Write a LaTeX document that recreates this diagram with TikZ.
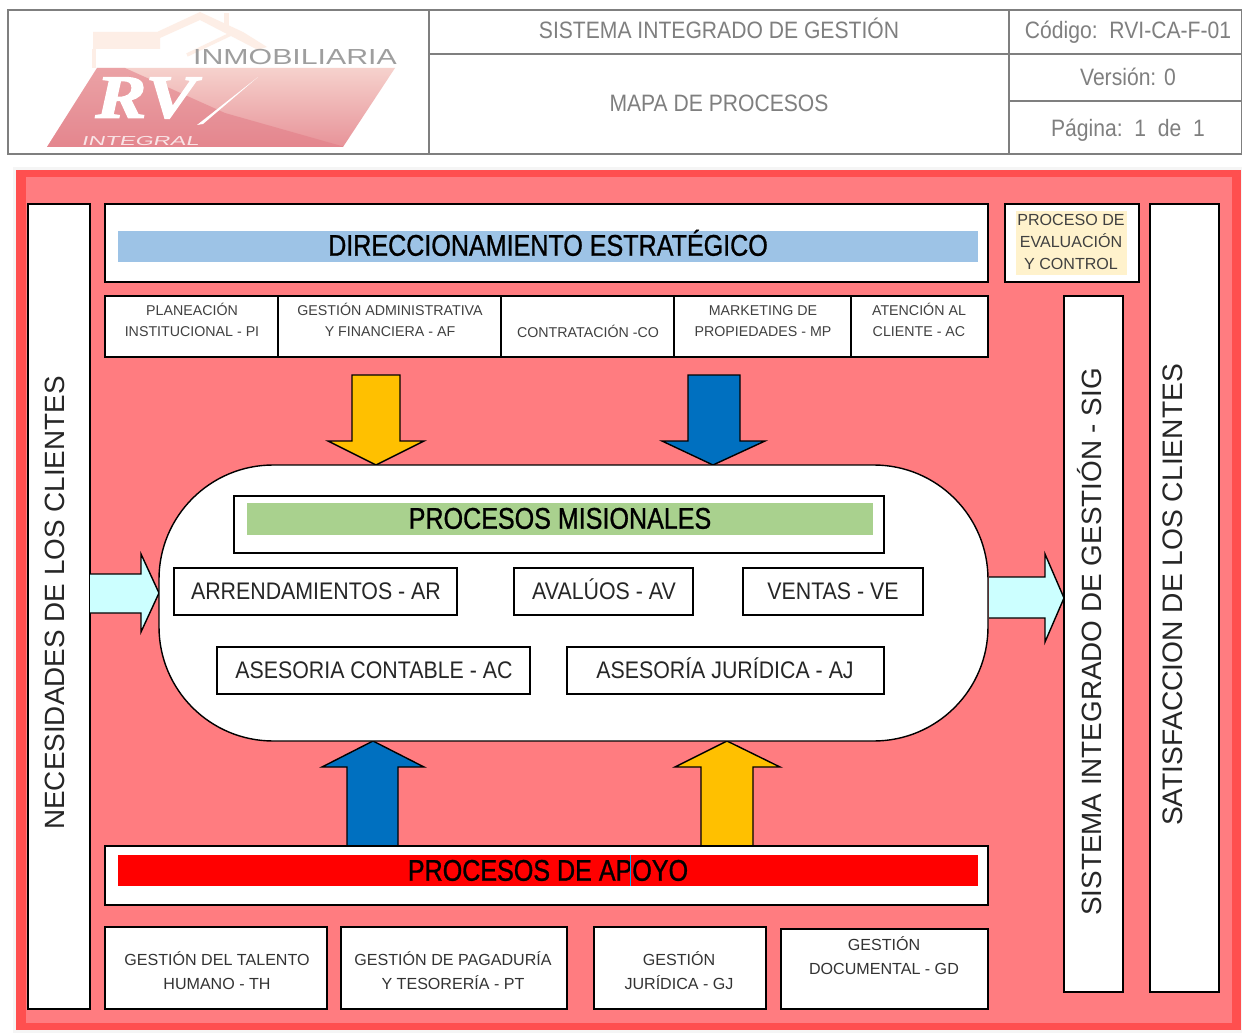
\documentclass[tikz,border=0pt]{standalone}
\usepackage{fontspec}
\setmainfont{Liberation Sans}
\newfontfamily\narrowfont[FakeStretch=0.89]{Liberation Sans}
\newfontfamily\barfont[FakeStretch=0.84,FakeBold=0.9]{Liberation Sans}
\newfontfamily\widefont[FakeStretch=1.39]{Liberation Sans}
\newfontfamily\logofont[FakeStretch=1.8,FakeSlant=0.25]{Liberation Sans}
\newfontfamily\brandfont[FakeStretch=1.25,FakeBold=2]{Liberation Serif}
\definecolor{headgrey}{HTML}{7F7F7F}
\definecolor{mapred}{HTML}{FF7C80}
\definecolor{mapedge}{HTML}{FF4F4F}
\definecolor{barblue}{HTML}{9DC3E6}
\definecolor{bargreen}{HTML}{A9D18E}
\definecolor{cream}{HTML}{FFF2CC}
\definecolor{arrowblue}{HTML}{0070C0}
\definecolor{arroworange}{HTML}{FFC000}
\definecolor{arrowcyan}{HTML}{CCFFFF}
\definecolor{logored}{HTML}{E27C86}
\definecolor{logomid}{HTML}{F2B5A5}
\definecolor{logopale}{HTML}{FBE8DF}
\definecolor{housepale}{HTML}{FDEEE6}
\usetikzlibrary{shadings}
\tikzset{
  headline/.style={draw=headgrey, line width=1.1pt},
  headtext/.style={text=headgrey, font=\narrowfont\fontsize{13.5}{15}\selectfont, text height=10pt, text depth=0pt},
  boxline/.style={draw=black, line width=0.8pt, fill=white},
  tinytext/.style={text=black!75, font=\fontsize{8.1}{12}\selectfont, align=center},
  midtext/.style={text=black!80, font=\fontsize{9.15}{13.6}\selectfont, align=center},
  wordtext/.style={text=black!85, font=\narrowfont\fontsize{13.65}{16}\selectfont, text height=10pt, text depth=0pt},
  bartext/.style={text=black, font=\barfont\fontsize{17}{19}\selectfont, text height=12.2pt, text depth=0pt},
  sidetext/.style={text=black!85, font=\fontsize{15.85}{18}\selectfont, rotate=90, text height=11.3pt, text depth=0pt},
  blockarrow/.style={draw=black, line width=0.8pt, line join=miter},
}
\begin{document}
\begin{tikzpicture}[x=0.02cm, y=-0.02cm]
  \useasboundingbox (0,0) rectangle (1242,1034);
  \fill[white] (0,0) rectangle (1242,1034);
  % logo
  \fill[housepale] (93,32) -- (157,32) -- (200,12) -- (243,32) -- (267,47) -- (258,50) -- (200,20) -- (160,38) -- (160,49) -- (93,49) -- cycle;
  \fill[housepale] (92,49) rectangle (96,68);
  \fill[housepale] (224,13) rectangle (229,30);
  \draw[housepale, line width=2pt] (187,55) -- (233,33);
  \begin{scope}
    \clip (97,68) -- (395,68) -- (343,147) -- (47,147) -- cycle;
    \shade[shading angle=-60, top color=logopale, middle color=logomid, bottom color=logored] (40,40) rectangle (400,175);
    \fill[logored, opacity=0.55] (47,147) -- (47,68) -- (125,68) -- (225,113) -- (345,147) -- cycle;
  \end{scope}
  \node[text=black!38, font=\widefont\fontsize{12.4}{14}\selectfont] (inmob) at (295,57) {INMOBILIARIA};
  \node[text=white, inner sep=0pt, font=\brandfont\bfseries\itshape\fontsize{35}{35}\selectfont] (rv) at (146,98) {RV};
  \fill[white] (258,77) -- (197,125) -- (203,124) -- cycle;
  \node[text=white!80!logored, inner sep=0pt, font=\logofont\fontsize{7.4}{8}\selectfont] (integral) at (140,141) {INTEGRAL};
  % header
  \draw[headline] (8,10) rectangle (1242,154);
  \draw[headline] (429,10) -- (429,154);
  \draw[headline] (1009,10) -- (1009,154);
  \draw[headline] (429,54) -- (1242,54);
  \draw[headline] (1009,101) -- (1242,101);
  \node[headtext] (sistema) at (719,30) {SISTEMA INTEGRADO DE GESTIÓN};
  \node[headtext] (mapa) at (719,103) {MAPA DE PROCESOS};
  \node[headtext] (codigo) at (1128,30) {Código:\ \ RVI-CA-F-01};
  \node[headtext] (version) at (1128,77) {Versión: 0};
  \node[headtext] (pagina) at (1128,128) {Página:\ \ 1\ \ de\ \ 1};
  % background
  \fill[black!4] (13,167) rectangle (1242,1033);
  \fill[mapedge] (16,170) rectangle (1241,1030);
  \fill[mapred] (26,177) rectangle (1232,1023);
  % top boxes
  \filldraw[boxline] (28,204) rectangle (90,1009);
  \node[sidetext] (necesidades) at (55,603) {NECESIDADES DE LOS CLIENTES};
  \filldraw[boxline] (105,204) rectangle (988,282);
  \fill[barblue] (118,231) rectangle (978,262);
  \node[bartext] (direccion) at (548,245) {DIRECCIONAMIENTO ESTRATÉGICO};
  \filldraw[boxline] (1005,204) rectangle (1139,282);
  \fill[cream] (1016,211) rectangle (1127,275);
  \node[midtext, text=black!75, font=\fontsize{9.15}{12.6}\selectfont] (evaluacion) at (1071,242) {PROCESO DE\\EVALUACIÓN\\Y CONTROL};
  \filldraw[boxline] (1150,204) rectangle (1219,992);
  \node[sidetext, font=\fontsize{16.05}{18}\selectfont] (satisfaccion) at (1173,595) {SATISFACCION DE LOS CLIENTES};
  \filldraw[boxline] (1064,296) rectangle (1123,992);
  \node[sidetext] (sig) at (1092,642) {SISTEMA INTEGRADO DE GESTIÓN - SIG};
  \filldraw[boxline] (105,296) rectangle (278,357);
  \node[tinytext] (pi) at (192,320) {PLANEACIÓN\\INSTITUCIONAL - PI};
  \filldraw[boxline] (278,296) rectangle (501,357);
  \node[tinytext] (af) at (390,320) {GESTIÓN ADMINISTRATIVA\\Y FINANCIERA - AF};
  \filldraw[boxline] (501,296) rectangle (674,357);
  \node[tinytext] (co) at (588,331) {CONTRATACIÓN -CO};
  \filldraw[boxline] (674,296) rectangle (851,357);
  \node[tinytext] (mp) at (763,321) {MARKETING DE\\PROPIEDADES - MP};
  \filldraw[boxline] (851,296) rectangle (988,357);
  \node[tinytext] (ac) at (919,320) {ATENCIÓN AL\\CLIENTE - AC};
  % block arrows
  \filldraw[blockarrow, fill=arroworange] (352,375) -- (400,375) -- (400,441) -- (424,441) -- (376,465) -- (328,441) -- (352,441) -- cycle;
  \filldraw[blockarrow, fill=arrowblue] (688,375) -- (740,375) -- (740,441) -- (765,441) -- (713,465) -- (662,441) -- (688,441) -- cycle;
  \filldraw[blockarrow, fill=arrowblue] (347,846) -- (398,846) -- (398,767) -- (424,767) -- (373,741) -- (322,767) -- (347,767) -- cycle;
  \filldraw[blockarrow, fill=arroworange] (701,846) -- (753,846) -- (753,767) -- (780,767) -- (727,741) -- (675,767) -- (701,767) -- cycle;
  \filldraw[blockarrow, fill=arrowcyan] (90,574) -- (141,574) -- (141,554) -- (159,593) -- (141,632) -- (141,613) -- (90,613);
  \filldraw[blockarrow, fill=arrowcyan] (989,577) -- (1045,577) -- (1045,554) -- (1064,598) -- (1045,642) -- (1045,618) -- (989,618);
  % misionales
  \filldraw[boxline, rounded corners=65pt] (159,465) rectangle (988,741);
  \filldraw[boxline] (234,496) rectangle (884,553);
  \fill[bargreen] (247,503) rectangle (873,535);
  \node[bartext] (misionales) at (560,518) {PROCESOS MISIONALES};
  \filldraw[boxline] (174,568) rectangle (457,615);
  \node[wordtext] (ar) at (316,591) {ARRENDAMIENTOS - AR};
  \filldraw[boxline] (514,568) rectangle (693,615);
  \node[wordtext] (av) at (604,591) {AVALÚOS - AV};
  \filldraw[boxline] (743,568) rectangle (923,615);
  \node[wordtext] (ve) at (833,591) {VENTAS - VE};
  \filldraw[boxline] (217,647) rectangle (530,694);
  \node[wordtext] (cont) at (374,670) {ASESORIA CONTABLE - AC};
  \filldraw[boxline] (567,647) rectangle (884,694);
  \node[wordtext] (aj) at (725,670) {ASESORÍA JURÍDICA - AJ};
  % apoyo
  \filldraw[boxline] (105,846) rectangle (988,905);
  \fill[red] (118,855) rectangle (978,886);
  \node[bartext] (apoyo) at (548,870) {PROCESOS DE APOYO};
  \draw[cyan, line width=0.4pt] (630,855) -- (630,886);
  \filldraw[boxline] (105,927) rectangle (327,1009);
  \node[midtext] (th) at (217,971) {GESTIÓN DEL TALENTO\\HUMANO - TH};
  \filldraw[boxline] (341,927) rectangle (567,1009);
  \node[midtext] (pt) at (453,971) {GESTIÓN DE PAGADURÍA\\Y TESORERÍA - PT};
  \filldraw[boxline] (594,927) rectangle (766,1009);
  \node[midtext] (gj) at (679,971) {GESTIÓN\\JURÍDICA - GJ};
  \filldraw[boxline] (781,929) rectangle (988,1009);
  \node[midtext] (gd) at (884,956) {GESTIÓN\\DOCUMENTAL - GD};
\end{tikzpicture}
\end{document}
